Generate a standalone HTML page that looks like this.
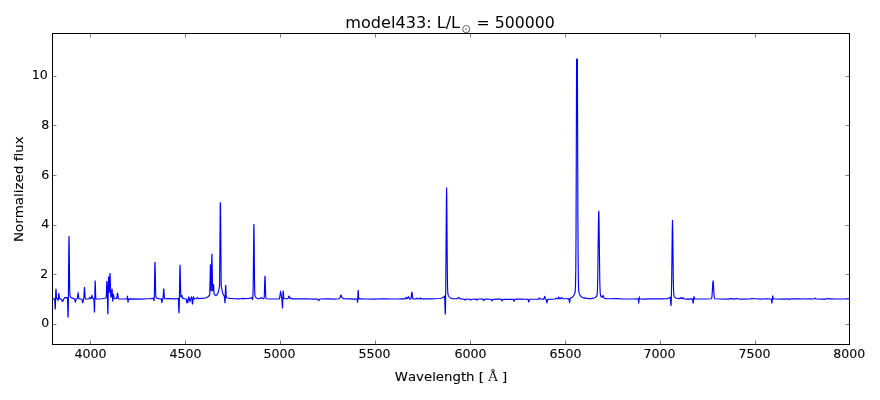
<!DOCTYPE html>
<html lang="en"><head><meta charset="utf-8"><title>model433 spectrum</title>
<style>
html,body{margin:0;padding:0;background:#fff;}
body{width:880px;height:400px;overflow:hidden;}
svg{display:block;will-change:transform;}
text{font-family:"DejaVu Sans","Liberation Sans",sans-serif;fill:#000;font-variant-ligatures:none;font-kerning:none;}
.tl text,.al{font-size:12px;stroke:#000;stroke-width:0.1px;}
.ttl{font-size:16px;}
.sub{font-size:11.8px;fill:#5a5a5a;}
.aa{font-family:"DejaVu Serif","Liberation Serif",serif;stroke:none;fill:#222;}
</style></head><body>
<svg width="880" height="400" viewBox="0 0 880 400">
<path d="M52.50 298.80 L54.30 298.89 L54.45 299.00 L54.55 299.25 L54.75 301.04 L55.05 307.92 L55.20 309.49 L55.35 306.97 L55.75 292.03 L55.95 288.90 L56.10 290.15 L56.40 296.14 L56.60 298.24 L56.80 298.83 L57.35 298.96 L57.55 299.12 L58.05 300.44 L58.20 300.14 L58.30 299.35 L58.65 294.35 L58.80 293.27 L58.95 293.78 L59.35 297.77 L59.55 298.60 L59.75 298.81 L60.80 298.86 L61.25 299.10 L61.60 299.66 L62.20 301.14 L62.45 301.44 L62.60 301.41 L62.80 301.12 L63.70 299.00 L65.00 297.60 L65.40 297.45 L66.10 297.82 L66.40 297.87 L67.10 297.49 L67.25 297.50 L67.40 298.07 L67.55 300.14 L67.95 315.48 L68.05 317.48 L68.10 317.30 L68.30 307.45 L68.80 247.29 L69.00 236.00 L69.15 241.99 L69.65 287.55 L69.85 293.73 L70.00 295.37 L70.15 296.06 L70.70 297.08 L71.45 297.76 L72.30 298.16 L74.10 298.59 L74.40 298.76 L74.70 299.36 L75.20 301.55 L75.40 301.95 L75.60 301.60 L76.00 299.85 L76.25 299.16 L76.50 298.92 L77.10 298.79 L77.35 298.33 L77.95 293.74 L78.10 293.25 L78.30 294.12 L78.70 297.67 L78.95 298.69 L79.10 298.90 L79.30 298.98 L81.35 299.00 L81.75 299.15 L82.10 299.97 L82.60 302.45 L82.70 302.67 L82.80 302.67 L83.85 297.90 L84.35 288.41 L84.50 287.00 L84.65 288.41 L85.05 296.74 L85.20 298.18 L85.40 298.84 L85.80 298.97 L88.70 298.90 L89.05 298.62 L89.55 297.63 L89.75 297.45 L89.95 297.61 L90.50 298.62 L90.70 298.75 L90.85 298.73 L91.20 298.14 L91.70 295.94 L91.90 295.55 L92.10 295.93 L92.50 297.76 L92.75 298.48 L93.00 298.75 L93.60 298.85 L93.75 298.99 L93.90 299.66 L94.05 301.75 L94.45 312.48 L94.60 309.74 L94.95 287.19 L95.15 280.54 L95.30 282.65 L95.60 293.72 L95.80 297.64 L96.05 298.81 L96.25 298.92 L96.75 298.95 L99.40 298.96 L102.10 298.73 L104.80 298.28 L105.65 298.02 L105.95 297.80 L106.20 296.72 L106.35 294.67 L106.75 283.02 L106.90 281.00 L107.15 285.83 L107.75 312.09 L107.90 314.33 L108.50 277.36 L108.55 276.59 L108.65 277.32 L109.00 289.92 L109.20 292.78 L109.40 290.35 L109.80 276.34 L110.00 273.00 L110.20 276.72 L110.60 291.59 L110.85 295.94 L111.10 297.04 L111.25 296.93 L111.35 296.55 L111.55 294.85 L111.90 289.80 L112.05 288.90 L112.20 290.13 L112.60 299.82 L112.75 301.43 L112.90 300.65 L113.20 296.15 L113.40 294.57 L113.45 294.50 L113.55 294.69 L114.00 297.44 L114.30 298.27 L114.75 298.48 L116.45 298.63 L116.65 298.41 L116.85 297.70 L117.30 293.85 L117.50 293.00 L117.70 293.89 L118.15 297.83 L118.35 298.58 L118.65 298.88 L121.05 298.98 L126.75 298.81 L126.90 298.73 L127.05 298.43 L127.40 296.58 L127.50 296.48 L127.90 301.55 L128.05 302.50 L128.50 299.43 L128.65 299.02 L128.90 298.89 L141.35 299.07 L146.65 298.70 L151.05 298.58 L152.10 298.44 L153.15 298.15 L153.30 298.24 L153.45 298.59 L153.95 300.95 L154.15 299.54 L154.35 294.58 L154.85 265.61 L155.00 261.90 L155.15 265.55 L155.65 292.74 L155.85 296.32 L156.10 297.47 L156.70 297.99 L157.65 298.38 L158.95 298.64 L160.85 298.82 L161.10 298.93 L161.40 299.74 L161.80 302.30 L161.90 302.50 L161.95 302.45 L162.45 299.53 L162.60 299.09 L162.95 298.57 L163.10 297.86 L163.60 289.72 L163.75 288.50 L163.90 289.71 L164.30 296.89 L164.45 298.13 L164.70 298.73 L168.60 298.70 L174.50 298.90 L176.45 298.73 L178.10 298.33 L178.30 298.82 L178.45 300.33 L178.85 311.39 L179.00 313.25 L179.25 306.57 L179.85 270.63 L180.05 264.75 L180.20 268.13 L180.65 291.72 L180.80 295.30 L181.00 296.99 L181.10 297.17 L181.25 297.04 L181.70 295.67 L181.90 295.46 L182.10 295.87 L182.60 297.89 L182.95 298.48 L183.55 298.66 L185.85 298.74 L186.10 298.86 L186.35 299.57 L186.75 302.71 L186.90 303.25 L187.40 300.76 L187.55 301.03 L187.80 302.30 L187.90 302.45 L187.95 302.37 L188.50 297.92 L188.70 297.02 L188.75 296.96 L188.85 297.01 L189.00 297.42 L189.50 299.27 L189.85 301.12 L190.00 301.45 L190.15 301.12 L190.55 299.18 L191.00 298.25 L191.35 297.13 L191.50 296.95 L191.65 297.25 L191.85 298.37 L192.35 303.80 L192.50 304.50 L192.65 303.81 L193.15 298.39 L193.35 297.25 L193.50 296.95 L193.65 297.16 L194.10 298.56 L194.25 298.74 L194.50 298.81 L196.05 298.80 L196.55 298.70 L196.80 298.49 L197.30 297.61 L197.50 297.45 L197.70 297.59 L198.20 298.40 L198.60 298.61 L204.25 298.13 L206.20 297.70 L207.70 297.00 L208.85 296.00 L209.80 294.53 L210.40 264.76 L210.50 264.50 L211.10 291.23 L211.20 290.96 L211.25 289.13 L211.80 256.86 L211.85 254.55 L211.95 254.50 L212.60 290.38 L212.85 290.95 L213.40 284.06 L213.55 284.75 L214.05 293.80 L214.65 294.68 L215.25 295.18 L215.90 295.34 L216.50 295.17 L216.95 294.81 L217.40 294.21 L217.80 293.42 L218.20 292.32 L218.85 289.67 L219.60 285.39 L220.25 206.53 L220.30 202.95 L220.40 202.90 L220.50 202.96 L220.55 206.55 L221.20 285.48 L221.95 289.88 L222.60 292.66 L223.25 294.47 L224.20 296.09 L224.40 296.68 L224.95 303.25 L225.10 301.70 L225.50 287.39 L225.65 285.10 L225.80 286.64 L226.20 295.73 L226.40 297.28 L226.50 297.54 L226.70 297.72 L227.95 298.06 L229.70 298.31 L235.20 298.77 L237.65 298.85 L241.15 298.68 L242.50 298.35 L243.85 298.55 L248.75 298.48 L250.40 298.19 L251.75 297.59 L252.00 297.94 L252.35 299.32 L252.45 299.45 L252.50 299.40 L252.75 297.84 L252.95 295.10 L253.20 286.75 L253.75 230.54 L253.90 224.00 L254.05 230.55 L254.50 280.03 L254.75 292.31 L254.90 294.82 L255.15 296.22 L255.45 296.85 L255.85 297.39 L256.35 297.86 L256.90 298.19 L258.20 298.59 L259.70 298.70 L260.20 298.48 L260.95 297.61 L261.25 297.45 L261.55 297.60 L262.25 298.42 L262.65 298.65 L263.70 298.70 L263.90 298.56 L264.00 298.34 L264.20 297.04 L264.35 294.63 L264.80 279.21 L265.00 275.75 L265.20 279.22 L265.65 294.67 L265.85 297.57 L266.05 298.53 L266.20 298.73 L266.45 298.80 L270.00 299.01 L278.40 299.04 L279.10 298.95 L279.40 298.63 L279.65 297.87 L280.35 292.83 L280.60 292.00 L280.85 292.81 L281.40 297.00 L281.95 299.65 L282.45 308.46 L282.60 306.86 L283.00 292.85 L283.10 291.15 L283.20 290.77 L283.75 297.66 L283.95 298.55 L284.20 298.75 L287.35 298.76 L287.75 298.67 L288.15 298.18 L288.75 296.50 L289.00 296.20 L289.25 296.53 L289.75 298.03 L290.05 298.56 L290.35 298.61 L290.85 298.10 L291.05 298.06 L291.70 298.77 L292.10 298.94 L306.00 298.80 L312.60 299.14 L317.25 299.04 L317.80 299.24 L318.50 300.28 L318.75 300.45 L319.00 300.27 L319.70 299.21 L320.30 298.98 L327.75 298.86 L333.95 299.05 L339.20 298.74 L339.60 298.54 L339.90 298.10 L340.70 295.62 L341.00 295.20 L341.25 295.49 L341.95 297.33 L342.50 297.84 L343.05 298.58 L343.40 298.78 L349.30 298.89 L354.10 299.11 L357.00 299.09 L357.15 299.26 L357.25 299.63 L357.60 302.60 L357.75 301.16 L358.05 291.69 L358.20 290.13 L358.65 297.69 L358.80 298.63 L358.90 298.84 L359.10 298.93 L361.50 298.88 L366.40 299.02 L375.20 299.05 L382.25 298.71 L388.60 298.94 L397.00 298.99 L402.05 298.84 L404.75 298.88 L405.30 298.68 L406.00 297.61 L406.25 297.45 L406.50 297.65 L407.10 298.64 L407.30 298.76 L407.45 298.73 L407.75 298.30 L408.30 296.93 L408.50 296.75 L408.75 297.04 L409.25 298.37 L409.55 298.87 L409.90 299.09 L410.50 299.11 L410.85 298.89 L411.10 298.15 L411.70 292.84 L411.90 292.00 L412.10 292.82 L412.70 298.09 L412.95 298.81 L413.30 299.01 L416.00 298.93 L416.30 298.77 L416.80 298.16 L417.00 298.05 L417.20 298.15 L417.75 298.79 L418.30 298.94 L419.40 298.84 L420.30 298.05 L420.50 298.14 L421.05 298.69 L421.50 298.81 L424.60 298.75 L430.60 298.94 L439.55 298.47 L441.25 298.22 L442.50 297.82 L443.40 297.27 L444.45 296.23 L444.60 296.67 L444.75 298.49 L445.15 312.43 L445.30 314.41 L445.50 307.28 L445.80 282.75 L446.40 199.78 L446.60 187.50 L446.80 199.79 L447.30 269.90 L447.55 286.93 L447.75 292.08 L448.00 294.28 L448.25 295.15 L448.65 296.05 L449.10 296.78 L449.65 297.41 L450.55 298.04 L451.70 298.45 L453.10 298.67 L455.15 298.74 L457.35 298.67 L457.80 298.38 L458.50 297.55 L458.80 297.46 L459.10 297.68 L459.75 298.53 L460.15 298.80 L460.85 298.93 L464.00 299.11 L464.30 299.30 L464.80 300.02 L465.00 300.15 L465.20 300.03 L465.75 299.27 L466.15 299.11 L469.55 299.23 L469.90 299.41 L470.40 300.04 L470.60 300.15 L470.80 300.05 L471.30 299.44 L471.65 299.27 L475.65 299.07 L476.15 299.23 L476.70 300.02 L476.90 300.15 L477.10 300.00 L477.60 299.21 L477.85 299.02 L479.45 298.96 L482.70 299.15 L483.05 299.43 L483.55 300.38 L483.75 300.55 L483.95 300.39 L484.45 299.47 L484.85 299.20 L490.70 299.29 L491.15 299.55 L491.70 300.66 L491.90 300.85 L492.10 300.67 L492.70 299.52 L492.95 299.37 L493.25 299.32 L498.55 299.11 L500.90 299.15 L501.35 299.44 L501.90 300.64 L502.10 300.85 L502.30 300.67 L502.85 299.53 L503.25 299.29 L506.10 299.34 L512.70 299.22 L513.00 299.29 L513.25 299.53 L513.80 300.84 L514.00 301.05 L514.20 300.83 L514.75 299.50 L514.95 299.29 L515.25 299.18 L520.45 298.96 L527.55 299.24 L527.85 299.33 L528.05 299.59 L528.60 301.62 L528.75 301.85 L528.95 301.45 L529.40 299.66 L529.60 299.32 L529.80 299.20 L538.20 299.12 L538.65 298.94 L539.20 298.18 L539.40 298.05 L539.60 298.17 L540.10 298.87 L540.40 299.05 L543.55 299.16 L543.80 299.05 L544.00 298.75 L544.55 296.86 L544.75 296.55 L544.95 296.88 L545.50 298.84 L546.05 299.49 L546.25 299.89 L546.70 301.98 L546.90 302.45 L547.10 301.99 L547.55 299.92 L547.70 299.60 L547.90 299.42 L554.90 299.01 L555.35 298.84 L556.00 298.17 L556.25 298.05 L556.50 298.16 L557.15 298.82 L557.65 298.95 L558.05 298.61 L558.55 297.42 L558.75 297.20 L558.95 297.40 L559.50 298.65 L559.90 298.90 L560.25 298.86 L560.55 298.68 L561.25 297.63 L561.50 297.45 L561.75 297.61 L562.40 298.55 L562.85 298.79 L566.05 298.77 L568.60 298.62 L568.80 298.80 L568.95 299.18 L569.40 301.67 L569.60 302.20 L569.80 301.57 L570.20 299.07 L570.45 298.30 L570.70 298.03 L572.20 297.22 L573.10 296.43 L573.95 295.25 L574.65 293.71 L575.00 292.50 L575.20 291.24 L575.50 286.07 L575.80 268.20 L576.05 230.73 L576.60 59.54 L576.80 59.14 L577.00 59.00 L577.20 59.15 L577.40 59.56 L577.90 219.79 L578.10 256.48 L578.35 279.75 L578.55 287.51 L578.70 290.24 L578.90 292.05 L579.25 293.50 L579.80 294.85 L580.45 295.93 L581.20 296.75 L582.45 297.54 L584.15 298.08 L584.70 298.08 L585.55 297.75 L585.85 297.86 L586.55 298.38 L587.10 298.54 L589.25 298.66 L591.30 298.56 L593.65 298.14 L594.55 297.84 L595.30 297.47 L595.95 296.99 L596.45 296.44 L596.80 295.80 L597.00 295.09 L597.20 293.69 L597.40 290.79 L597.70 280.92 L598.45 222.34 L598.60 213.92 L598.75 210.90 L598.90 213.93 L599.05 222.37 L599.75 278.47 L599.95 287.03 L600.20 292.63 L600.50 295.25 L600.75 296.10 L601.10 296.70 L601.65 297.25 L602.05 297.31 L602.35 296.95 L602.90 295.68 L603.10 295.56 L603.35 295.93 L604.00 297.82 L604.25 298.18 L604.55 298.37 L606.50 298.61 L610.15 298.78 L616.45 298.62 L623.50 298.97 L632.25 298.98 L637.85 298.86 L638.10 298.99 L638.25 299.38 L638.65 302.36 L638.75 302.60 L638.90 301.75 L639.20 298.30 L639.40 297.45 L639.80 298.61 L640.05 298.91 L644.00 299.12 L649.60 298.88 L658.00 298.71 L663.50 298.84 L665.30 298.79 L666.85 298.62 L668.15 298.33 L669.10 297.97 L670.15 297.36 L670.30 297.55 L670.45 298.40 L670.85 305.04 L671.00 305.95 L671.30 299.19 L671.65 283.21 L672.25 230.67 L672.50 220.00 L672.75 230.69 L673.30 279.66 L673.60 291.76 L673.80 294.74 L674.10 296.26 L674.35 296.75 L674.80 297.29 L675.35 297.73 L675.95 298.06 L677.35 298.46 L679.25 298.67 L679.70 298.50 L680.35 297.77 L680.60 297.65 L680.85 297.80 L681.45 298.58 L681.85 298.75 L682.15 298.59 L682.75 297.79 L683.00 297.65 L683.25 297.82 L683.95 298.82 L684.50 299.05 L686.75 299.09 L692.30 298.84 L692.45 298.97 L692.60 299.44 L693.10 303.50 L693.25 302.69 L693.70 297.63 L693.95 296.45 L694.45 298.51 L694.60 298.76 L694.80 298.84 L706.75 298.97 L711.25 298.70 L711.50 298.49 L711.70 298.04 L712.05 295.82 L712.85 282.47 L713.10 280.70 L713.35 282.47 L713.90 292.48 L714.20 296.31 L714.40 297.65 L714.60 298.33 L714.85 298.67 L715.25 298.79 L719.40 299.03 L728.30 299.07 L729.55 298.98 L730.60 298.45 L731.50 298.83 L732.05 298.90 L735.70 298.86 L736.90 298.45 L738.15 299.00 L740.70 299.08 L750.45 298.85 L750.95 298.78 L751.95 298.45 L753.10 298.74 L756.05 298.77 L760.90 299.06 L767.05 298.92 L770.95 298.97 L771.25 299.13 L771.40 299.59 L771.90 303.50 L772.05 302.70 L772.55 296.63 L772.75 295.55 L773.25 298.50 L773.40 298.85 L773.70 298.96 L776.70 298.96 L782.20 299.16 L788.00 298.85 L788.50 298.97 L789.15 299.46 L789.40 299.55 L789.65 299.46 L790.35 298.94 L790.95 298.84 L797.80 298.86 L803.25 299.02 L809.55 298.79 L813.60 298.95 L814.10 298.80 L814.75 298.16 L815.00 298.05 L815.25 298.17 L816.00 298.91 L816.75 299.05 L823.50 299.12 L825.80 299.06 L826.50 298.94 L827.25 298.44 L827.55 298.35 L828.35 298.76 L828.75 298.85 L831.55 298.82 L835.95 299.00 L845.85 298.90 L849.50 298.77" fill="none" stroke="#0000ff" stroke-width="1.15" stroke-linejoin="miter" stroke-miterlimit="4"/>
<rect x="52.5" y="33.5" width="797.0" height="311.0" fill="none" stroke="#000" stroke-width="1"/>
<path d="M90.5 344.5v-4M90.5 33.5v4M185.5 344.5v-4M185.5 33.5v4M280.5 344.5v-4M280.5 33.5v4M375.5 344.5v-4M375.5 33.5v4M470.5 344.5v-4M470.5 33.5v4M565.5 344.5v-4M565.5 33.5v4M660.5 344.5v-4M660.5 33.5v4M755.5 344.5v-4M755.5 33.5v4M849.5 344.5v-4M849.5 33.5v4M52.5 324.5h4M849.5 324.5h-4M52.5 274.5h4M849.5 274.5h-4M52.5 225.5h4M849.5 225.5h-4M52.5 175.5h4M849.5 175.5h-4M52.5 125.5h4M849.5 125.5h-4M52.5 76.5h4M849.5 76.5h-4" stroke="#000" stroke-width="0.5" fill="none"/>
<g class="tl"><text transform="translate(90.5 358) scale(1.05 1)" text-anchor="middle">4000</text><text transform="translate(185.5 358) scale(1.05 1)" text-anchor="middle">4500</text><text transform="translate(279.5 358) scale(1.05 1)" text-anchor="middle">5000</text><text transform="translate(374.5 358) scale(1.05 1)" text-anchor="middle">5500</text><text transform="translate(470.5 358) scale(1.05 1)" text-anchor="middle">6000</text><text transform="translate(565.5 358) scale(1.05 1)" text-anchor="middle">6500</text><text transform="translate(659.5 358) scale(1.05 1)" text-anchor="middle">7000</text><text transform="translate(754.5 358) scale(1.05 1)" text-anchor="middle">7500</text><text transform="translate(849.3 358) scale(1.05 1)" text-anchor="middle">8000</text><text transform="translate(49.2 327.1) scale(1.05 1)" text-anchor="end">0</text><text transform="translate(48.35 278.1) scale(1.05 1)" text-anchor="end">2</text><text transform="translate(49.2 228.1) scale(1.05 1)" text-anchor="end">4</text><text transform="translate(49.2 179.1) scale(1.05 1)" text-anchor="end">6</text><text transform="translate(49.2 129.1) scale(1.05 1)" text-anchor="end">8</text><text transform="translate(47.85 79.1) scale(1.05 1)" text-anchor="end">10</text></g>
<text class="ttl" y="28"><tspan x="345.3" textLength="114.8" lengthAdjust="spacingAndGlyphs">model433: L/L</tspan><tspan class="sub" x="461.2" dy="5">⊙</tspan><tspan x="476.6" dy="-5" textLength="78.2" lengthAdjust="spacingAndGlyphs">= 500000</tspan></text>
<text class="al" transform="translate(451 380.7) scale(1.11 1)" text-anchor="middle">Wavelength [ <tspan class="aa">Å</tspan> ]</text>
<text class="al" transform="translate(22.9 189.2) rotate(-90) scale(1.12 1)" text-anchor="middle">Normalized flux</text>
</svg>
</body></html>
